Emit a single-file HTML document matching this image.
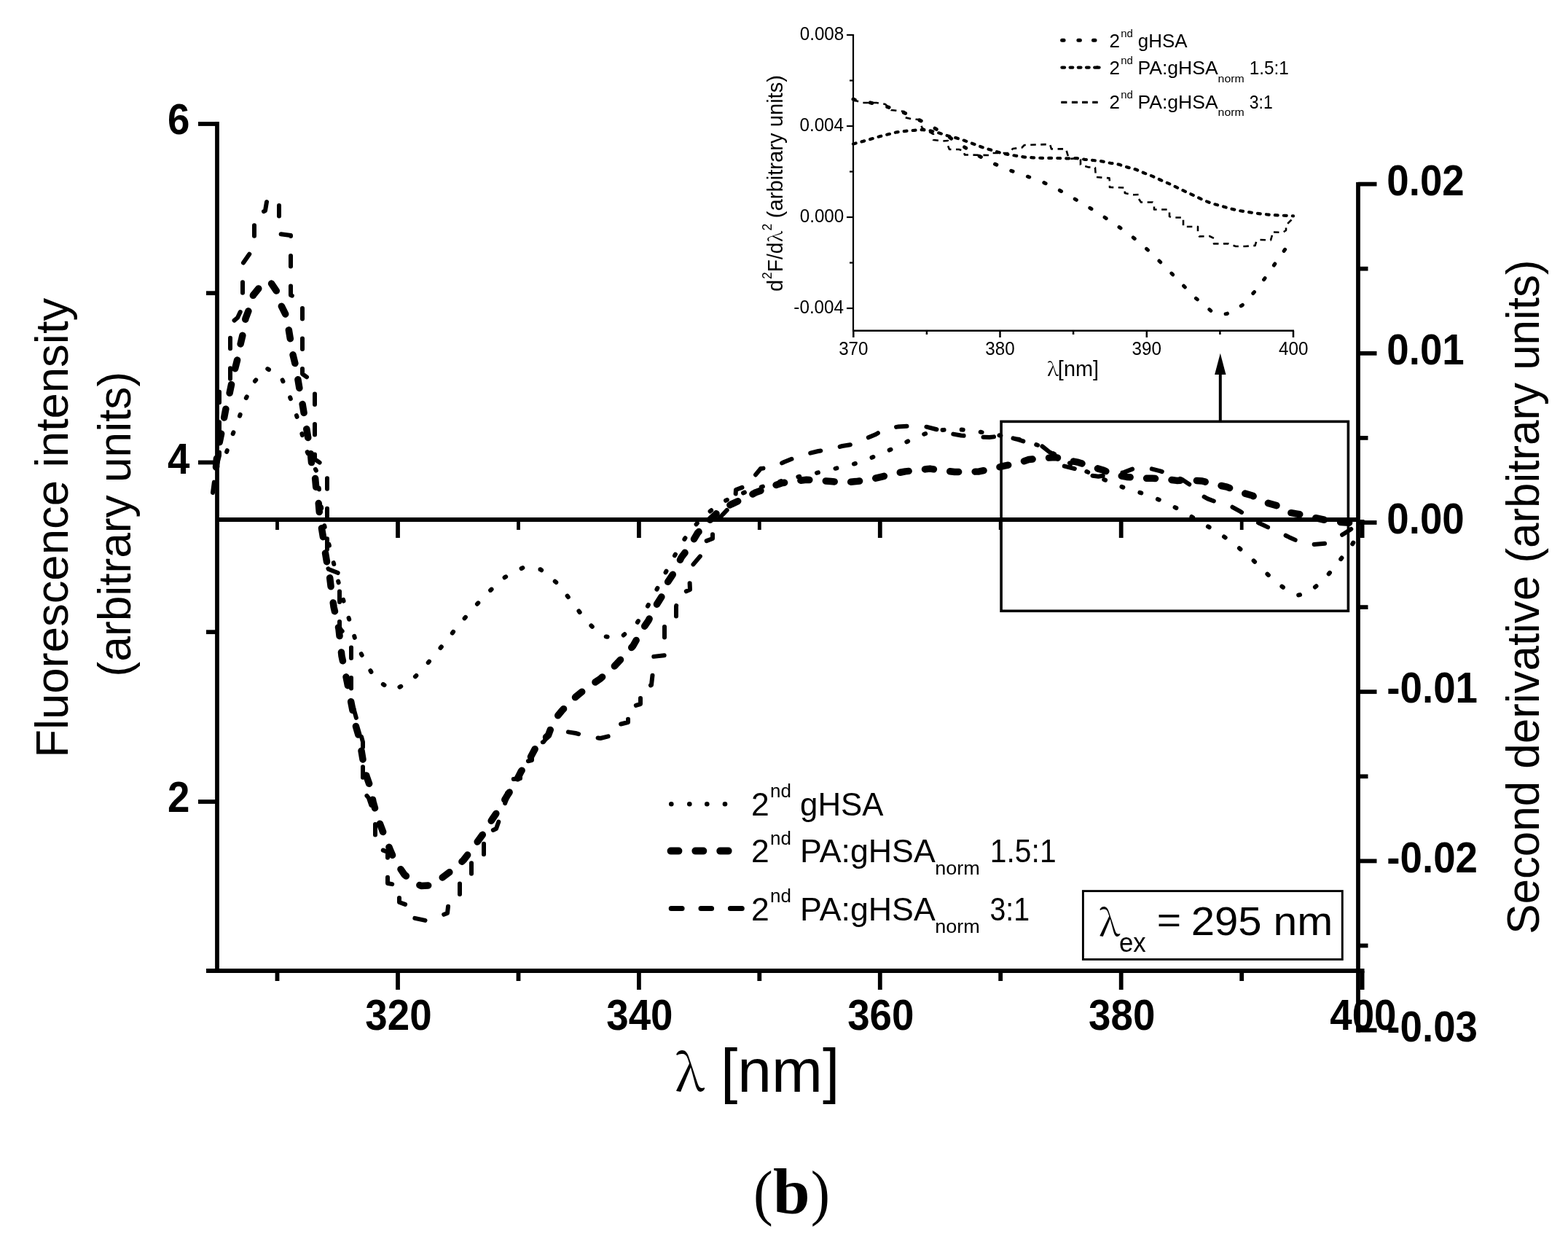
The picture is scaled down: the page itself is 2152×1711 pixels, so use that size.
<!DOCTYPE html>
<html><head><meta charset="utf-8"><title>Second derivative fluorescence spectra</title>
<style>html,body{margin:0;padding:0;background:#fff;}svg{display:block;}</style></head>
<body><svg width="2152" height="1711" viewBox="0 0 2152 1711">
<rect width="2152" height="1711" fill="#fff"/>
<g stroke="#000" stroke-width="5.8" fill="none" stroke-linecap="butt">
<line x1="298" y1="167.1" x2="298" y2="1335"/>
<line x1="283" y1="1332" x2="1872.5" y2="1332"/>
<line x1="1864" y1="250" x2="1864" y2="1416.6"/>
<line x1="298" y1="713" x2="1864" y2="713"/>
<line x1="272" y1="170" x2="298" y2="170"/>
<line x1="272" y1="634.5" x2="298" y2="634.5"/>
<line x1="272" y1="1100" x2="298" y2="1100"/>
<line x1="283" y1="402.2" x2="298" y2="402.2"/>
<line x1="283" y1="867.2" x2="298" y2="867.2"/>
<line x1="546.0" y1="1332" x2="546.0" y2="1358"/>
<line x1="876.9" y1="1332" x2="876.9" y2="1358"/>
<line x1="1207.8" y1="1332" x2="1207.8" y2="1358"/>
<line x1="1538.7" y1="1332" x2="1538.7" y2="1358"/>
<line x1="1869.6" y1="1332" x2="1869.6" y2="1358"/>
<line x1="380.5" y1="1332" x2="380.5" y2="1346"/>
<line x1="711.5" y1="1332" x2="711.5" y2="1346"/>
<line x1="1042.3" y1="1332" x2="1042.3" y2="1346"/>
<line x1="1373.2" y1="1332" x2="1373.2" y2="1346"/>
<line x1="1704.2" y1="1332" x2="1704.2" y2="1346"/>
<line x1="546.0" y1="713" x2="546.0" y2="738"/>
<line x1="876.9" y1="713" x2="876.9" y2="738"/>
<line x1="1207.8" y1="713" x2="1207.8" y2="738"/>
<line x1="1538.7" y1="713" x2="1538.7" y2="738"/>
<line x1="1869.6" y1="713" x2="1869.6" y2="738"/>
<line x1="380.5" y1="713" x2="380.5" y2="727" stroke-width="4.8"/>
<line x1="711.5" y1="713" x2="711.5" y2="727" stroke-width="4.8"/>
<line x1="1042.3" y1="713" x2="1042.3" y2="727" stroke-width="4.8"/>
<line x1="1373.2" y1="713" x2="1373.2" y2="727" stroke-width="4.8"/>
<line x1="1704.2" y1="713" x2="1704.2" y2="727" stroke-width="4.8"/>
<line x1="1864" y1="252.6" x2="1889.5" y2="252.6"/>
<line x1="1864" y1="484.8" x2="1889.5" y2="484.8"/>
<line x1="1864" y1="717.0" x2="1889.5" y2="717.0"/>
<line x1="1864" y1="949.2" x2="1889.5" y2="949.2"/>
<line x1="1864" y1="1181.4" x2="1889.5" y2="1181.4"/>
<line x1="1864" y1="1413.6" x2="1889.5" y2="1413.6"/>
<line x1="1864" y1="368.7" x2="1877.5" y2="368.7"/>
<line x1="1864" y1="600.9" x2="1877.5" y2="600.9"/>
<line x1="1864" y1="833.1" x2="1877.5" y2="833.1"/>
<line x1="1864" y1="1065.3" x2="1877.5" y2="1065.3"/>
<line x1="1864" y1="1297.5" x2="1877.5" y2="1297.5"/>
</g>
<text transform="translate(230.08,184.30) scale(0.9350,1)" font-family="'Liberation Sans', Arial, sans-serif" font-weight="bold" font-size="58.5">6</text>
<text transform="translate(230.08,650.00) scale(0.9350,1)" font-family="'Liberation Sans', Arial, sans-serif" font-weight="bold" font-size="58.5">4</text>
<text transform="translate(230.08,1113.80) scale(0.9350,1)" font-family="'Liberation Sans', Arial, sans-serif" font-weight="bold" font-size="58.5">2</text>
<text transform="translate(501.37,1413.30) scale(0.9350,1)" font-family="'Liberation Sans', Arial, sans-serif" font-weight="bold" font-size="58.5">320</text>
<text transform="translate(832.27,1413.30) scale(0.9350,1)" font-family="'Liberation Sans', Arial, sans-serif" font-weight="bold" font-size="58.5">340</text>
<text transform="translate(1163.17,1413.30) scale(0.9350,1)" font-family="'Liberation Sans', Arial, sans-serif" font-weight="bold" font-size="58.5">360</text>
<text transform="translate(1494.07,1413.30) scale(0.9350,1)" font-family="'Liberation Sans', Arial, sans-serif" font-weight="bold" font-size="58.5">380</text>
<text transform="translate(1825.25,1413.30) scale(0.9350,1)" font-family="'Liberation Sans', Arial, sans-serif" font-weight="bold" font-size="58.5">400</text>
<text transform="translate(1903.30,267.80) scale(0.9350,1)" font-family="'Liberation Sans', Arial, sans-serif" font-weight="bold" font-size="58.5">0.02</text>
<text transform="translate(1903.30,500.00) scale(0.9350,1)" font-family="'Liberation Sans', Arial, sans-serif" font-weight="bold" font-size="58.5">0.01</text>
<text transform="translate(1903.30,732.20) scale(0.9350,1)" font-family="'Liberation Sans', Arial, sans-serif" font-weight="bold" font-size="58.5">0.00</text>
<text transform="translate(1903.30,964.40) scale(0.9350,1)" font-family="'Liberation Sans', Arial, sans-serif" font-weight="bold" font-size="58.5">-0.01</text>
<text transform="translate(1903.30,1196.60) scale(0.9350,1)" font-family="'Liberation Sans', Arial, sans-serif" font-weight="bold" font-size="58.5">-0.02</text>
<text transform="translate(1903.30,1428.80) scale(0.9350,1)" font-family="'Liberation Sans', Arial, sans-serif" font-weight="bold" font-size="58.5">-0.03</text>
<text transform="translate(93.00,1039.87) rotate(-90) scale(1.0150,1)" font-family="'Liberation Sans', Arial, sans-serif" font-weight="normal" font-size="62.5">Fluorescence intensity</text>
<text transform="translate(179.00,928.44) rotate(-90) scale(0.9966,1)" font-family="'Liberation Sans', Arial, sans-serif" font-weight="normal" font-size="62.5">(arbitrary units)</text>
<text transform="translate(2112.00,1281.79) rotate(-90) scale(0.9905,1)" font-family="'Liberation Sans', Arial, sans-serif" font-weight="normal" font-size="62.5">Second derivative (arbitrary units)</text>
<text transform="translate(926.46,1497.10) scale(1.0067,1)" font-family="'Noto Serif CJK SC', 'Liberation Serif', serif" font-weight="normal" font-size="69">λ</text>
<text transform="translate(989.02,1498.00) scale(1.0114,1)" font-family="'Liberation Sans', Arial, sans-serif" font-weight="normal" font-size="83">[nm]</text>
<text transform="translate(1033.88,1665.20) scale(0.9414,1)" font-family="'Liberation Serif', 'Times New Roman', serif" font-weight="normal" font-size="85.4">(</text>
<text transform="translate(1061.09,1665.40) scale(1.0304,1)" font-family="'Liberation Serif', 'Times New Roman', serif" font-weight="bold" font-size="88.4">b</text>
<text transform="translate(1112.83,1665.20) scale(0.9233,1)" font-family="'Liberation Serif', 'Times New Roman', serif" font-weight="normal" font-size="85.4">)</text>
<text transform="translate(1030.98,1118.90)" font-family="'Liberation Sans', Arial, sans-serif" font-weight="normal" font-size="44.5">2</text>
<text transform="translate(1057.01,1094.40)" font-family="'Liberation Sans', Arial, sans-serif" font-weight="normal" font-size="26">nd</text>
<text transform="translate(1098.05,1118.90) scale(0.9837,1)" font-family="'Liberation Sans', Arial, sans-serif" font-weight="normal" font-size="44.5">gHSA</text>
<text transform="translate(1030.98,1183.20)" font-family="'Liberation Sans', Arial, sans-serif" font-weight="normal" font-size="44.5">2</text>
<text transform="translate(1057.01,1158.70)" font-family="'Liberation Sans', Arial, sans-serif" font-weight="normal" font-size="26">nd</text>
<text transform="translate(1098.12,1183.20) scale(1.0054,1)" font-family="'Liberation Sans', Arial, sans-serif" font-weight="normal" font-size="44.5">PA:gHSA</text>
<text transform="translate(1283.24,1200.20) scale(1.0418,1)" font-family="'Liberation Sans', Arial, sans-serif" font-weight="normal" font-size="26">norm</text>
<text transform="translate(1358.84,1183.20) scale(0.9170,1)" font-family="'Liberation Sans', Arial, sans-serif" font-weight="normal" font-size="44.5">1.5:1</text>
<text transform="translate(1030.98,1262.60)" font-family="'Liberation Sans', Arial, sans-serif" font-weight="normal" font-size="44.5">2</text>
<text transform="translate(1057.01,1238.10)" font-family="'Liberation Sans', Arial, sans-serif" font-weight="normal" font-size="26">nd</text>
<text transform="translate(1098.12,1262.60) scale(1.0054,1)" font-family="'Liberation Sans', Arial, sans-serif" font-weight="normal" font-size="44.5">PA:gHSA</text>
<text transform="translate(1283.24,1279.60) scale(1.0418,1)" font-family="'Liberation Sans', Arial, sans-serif" font-weight="normal" font-size="26">norm</text>
<text transform="translate(1358.43,1262.60) scale(0.8834,1)" font-family="'Liberation Sans', Arial, sans-serif" font-weight="normal" font-size="44.5">3:1</text>
<circle cx="921.3" cy="1103.3" r="3.3"/><circle cx="946.3" cy="1103.3" r="3.3"/><circle cx="970.3" cy="1103.3" r="3.3"/><circle cx="995" cy="1103.3" r="3.3"/>
<g stroke="#000" stroke-linecap="round" fill="none">
<path d="M920.6 1167.6H931.4M954.4 1167.6H965.3M988.3 1167.6H999.6" stroke-width="10"/>
<path d="M921.2 1246.4H936.1M962 1246.4H976.6M1002.4 1246.4H1018.3" stroke-width="7"/>
</g>
<rect x="1486.4" y="1222.6" width="355.9" height="93.8" fill="none" stroke="#000" stroke-width="2.9"/>
<text transform="translate(1508.25,1283.50) scale(0.9964,1)" font-family="'Noto Serif CJK SC', 'Liberation Serif', serif" font-weight="normal" font-size="50">λ</text>
<text transform="translate(1536.01,1306.00) scale(0.9541,1)" font-family="'Liberation Sans', Arial, sans-serif" font-weight="normal" font-size="36.5">ex</text>
<text transform="translate(1587.64,1279.10) scale(1.1423,1)" font-family="'Liberation Sans', Arial, sans-serif" font-weight="normal" font-size="50">=</text>
<text transform="translate(1634.69,1283.40) scale(1.0385,1)" font-family="'Liberation Sans', Arial, sans-serif" font-weight="normal" font-size="56">295</text>
<text transform="translate(1747.47,1283.40) scale(1.0515,1)" font-family="'Liberation Sans', Arial, sans-serif" font-weight="normal" font-size="56">nm</text>
<rect x="1374.1" y="578.4" width="476.3" height="259.9" fill="none" stroke="#000" stroke-width="3.6"/>
<line x1="1674.8" y1="578" x2="1674.8" y2="512" stroke="#000" stroke-width="4"/>
<path d="M1674.8 484.7L1682.5 514L1667.1 514Z" fill="#000"/>
<g stroke="#000" fill="none">
<line x1="1171" y1="47" x2="1171" y2="455" stroke-width="2.2"/>
<line x1="1170" y1="453.8" x2="1776" y2="453.8" stroke-width="2.5"/>
<line x1="1162" y1="48.0" x2="1171" y2="48.0" stroke-width="2.2"/>
<line x1="1162" y1="173.0" x2="1171" y2="173.0" stroke-width="2.2"/>
<line x1="1162" y1="298.0" x2="1171" y2="298.0" stroke-width="2.2"/>
<line x1="1162" y1="423.0" x2="1171" y2="423.0" stroke-width="2.2"/>
<line x1="1166" y1="110.5" x2="1171" y2="110.5" stroke-width="2.2"/>
<line x1="1166" y1="235.5" x2="1171" y2="235.5" stroke-width="2.2"/>
<line x1="1166" y1="360.5" x2="1171" y2="360.5" stroke-width="2.2"/>
<line x1="1171.3" y1="453.8" x2="1171.3" y2="463" stroke-width="2.5"/>
<line x1="1372.5" y1="453.8" x2="1372.5" y2="463" stroke-width="2.5"/>
<line x1="1573.8" y1="453.8" x2="1573.8" y2="463" stroke-width="2.5"/>
<line x1="1775.0" y1="453.8" x2="1775.0" y2="463" stroke-width="2.5"/>
<line x1="1271.9" y1="453.8" x2="1271.9" y2="459" stroke-width="2.5"/>
<line x1="1473.1" y1="453.8" x2="1473.1" y2="459" stroke-width="2.5"/>
<line x1="1674.4" y1="453.8" x2="1674.4" y2="459" stroke-width="2.5"/>
</g>
<text transform="translate(1097.71,55.20) scale(0.9500,1)" font-family="'Liberation Sans', Arial, sans-serif" font-weight="normal" font-size="25.5">0.008</text>
<text transform="translate(1097.46,180.20) scale(0.9500,1)" font-family="'Liberation Sans', Arial, sans-serif" font-weight="normal" font-size="25.5">0.004</text>
<text transform="translate(1097.71,305.20) scale(0.9500,1)" font-family="'Liberation Sans', Arial, sans-serif" font-weight="normal" font-size="25.5">0.000</text>
<text transform="translate(1089.35,430.20) scale(0.9500,1)" font-family="'Liberation Sans', Arial, sans-serif" font-weight="normal" font-size="25.5">-0.004</text>
<text transform="translate(1151.13,487.20) scale(0.9500,1)" font-family="'Liberation Sans', Arial, sans-serif" font-weight="normal" font-size="25.5">370</text>
<text transform="translate(1352.36,487.20) scale(0.9500,1)" font-family="'Liberation Sans', Arial, sans-serif" font-weight="normal" font-size="25.5">380</text>
<text transform="translate(1553.59,487.20) scale(0.9500,1)" font-family="'Liberation Sans', Arial, sans-serif" font-weight="normal" font-size="25.5">390</text>
<text transform="translate(1755.00,487.20) scale(0.9500,1)" font-family="'Liberation Sans', Arial, sans-serif" font-weight="normal" font-size="25.5">400</text>
<text transform="translate(1437.23,515.50) scale(1.0786,1)" font-family="'Noto Serif CJK SC', 'Liberation Serif', serif" font-weight="normal" font-size="25">λ</text>
<text transform="translate(1451.87,516.00) scale(0.9981,1)" font-family="'Liberation Sans', Arial, sans-serif" font-weight="normal" font-size="29">[nm]</text>
<text transform="translate(1073.80,400.06) rotate(-90)" font-family="'Liberation Sans', Arial, sans-serif" font-weight="normal" font-size="29">d</text>
<text transform="translate(1058.90,383.07) rotate(-90)" font-family="'Liberation Sans', Arial, sans-serif" font-weight="normal" font-size="17.5">2</text>
<text transform="translate(1073.80,373.25) rotate(-90) scale(0.9708,1)" font-family="'Liberation Sans', Arial, sans-serif" font-weight="normal" font-size="29">F/d</text>
<text transform="translate(1073.50,331.74) rotate(-90) scale(1.0286,1)" font-family="'Noto Serif CJK SC', 'Liberation Serif', serif" font-weight="normal" font-size="25">λ</text>
<text transform="translate(1058.90,316.48) rotate(-90)" font-family="'Liberation Sans', Arial, sans-serif" font-weight="normal" font-size="17.5">2</text>
<text transform="translate(1073.80,299.15) rotate(-90) scale(1.0068,1)" font-family="'Liberation Sans', Arial, sans-serif" font-weight="normal" font-size="29">(arbitrary units)</text>
<g stroke="#000" fill="none">
<path d="M1457.6 55.2h2.5M1479.9 55.2h2.5M1500.5 55.2h2.5" stroke-width="5" stroke-linecap="round"/>
<path d="M1457.5 92.6h3.5M1468.7 92.6h3.5M1479.9 92.6h3.5M1491.1 92.6h3.5M1502.3 92.6h3.5M1506 92.6h2.5" stroke-width="4.4" stroke-linecap="round"/>
<path d="M1456.3 140.3h8.1M1470.9 140.3h8.1M1485.1 140.3h7.8M1499.2 140.3h7.5" stroke-width="3.2"/>
</g>
<text transform="translate(1522.50,65.00)" font-family="'Liberation Sans', Arial, sans-serif" font-weight="normal" font-size="26">2</text>
<text transform="translate(1538.23,51.00)" font-family="'Liberation Sans', Arial, sans-serif" font-weight="normal" font-size="15">nd</text>
<text transform="translate(1561.76,65.00) scale(0.9982,1)" font-family="'Liberation Sans', Arial, sans-serif" font-weight="normal" font-size="26">gHSA</text>
<text transform="translate(1522.50,102.40)" font-family="'Liberation Sans', Arial, sans-serif" font-weight="normal" font-size="26">2</text>
<text transform="translate(1538.23,88.40)" font-family="'Liberation Sans', Arial, sans-serif" font-weight="normal" font-size="15">nd</text>
<text transform="translate(1561.48,102.40) scale(1.0215,1)" font-family="'Liberation Sans', Arial, sans-serif" font-weight="normal" font-size="26">PA:gHSA</text>
<text transform="translate(1671.57,112.90) scale(1.0598,1)" font-family="'Liberation Sans', Arial, sans-serif" font-weight="normal" font-size="15">norm</text>
<text transform="translate(1714.68,102.40) scale(0.9355,1)" font-family="'Liberation Sans', Arial, sans-serif" font-weight="normal" font-size="26">1.5:1</text>
<text transform="translate(1522.50,148.70)" font-family="'Liberation Sans', Arial, sans-serif" font-weight="normal" font-size="26">2</text>
<text transform="translate(1538.23,134.70)" font-family="'Liberation Sans', Arial, sans-serif" font-weight="normal" font-size="15">nd</text>
<text transform="translate(1561.48,148.70) scale(1.0215,1)" font-family="'Liberation Sans', Arial, sans-serif" font-weight="normal" font-size="26">PA:gHSA</text>
<text transform="translate(1671.57,159.20) scale(1.0598,1)" font-family="'Liberation Sans', Arial, sans-serif" font-weight="normal" font-size="15">norm</text>
<text transform="translate(1714.78,148.70) scale(0.8842,1)" font-family="'Liberation Sans', Arial, sans-serif" font-weight="normal" font-size="26">3:1</text>
<g fill="none" stroke="#000" stroke-linejoin="round">
<path d="M297 642 L310.3 622.3 L318.8 597.5 L328.1 573.5 L336.5 548.8 L348.4 524.8 L365 504.8 L385.6 516.9 L396.9 541.9 L405.6 565.6 L413.1 590 L419.1 614.4 L427 632 L435 648 L439 680 L443.1 712.5 L449 737 L455 761 L464 797 L474.4 835 L482.3 859.4 L489.4 883.8 L501 908.1 L515.9 932.5 L539 947.3 L563.4 935.4 L585.4 911.9 L606.3 886.9 L625.3 862.9 L646.3 838.1 L668.8 813.8 L693.1 791.9 L717.5 779 L741.9 781.3 L766 801.3 L784.8 825.6 L802.9 849.8 L825 872.3 L849.8 876.6 L872.9 856.9 L888.8 831.9 L901.9 807.8 L914.8 783.1 L927.9 758.8 L943.1 733.8 L962 712 L986.9 691.3 L1010 680 L1035 671 L1060 664 L1085 656 L1108.8 651.8 L1133.9 645.7 L1158 640.2 L1182.7 633.7 L1206.8 623.4 L1231.9 612.8 L1255.6 600.6 L1280 591.3 L1305 589 L1329.4 590 L1353 594 L1378 598.5 L1403 603.8 L1428 612 L1452 626 L1476 640 L1500 651 L1525 662.3 L1550 671.9 L1573.8 678.5 L1598.1 688.8 L1622.8 701.3 L1647.5 716.3 L1671.9 730.6 L1696.3 748.1 L1720.6 769.4 L1745 793.1 L1770 813.1 L1782 816.5 L1794.4 814.4 L1817.5 795 L1837.5 770.6 L1856.3 746.3 L1866 730" stroke-width="6" stroke-linecap="round" stroke-dasharray="2 24.2"/>
<path d="M292 676 L296 645 L301 625 L301 532 L316 524 L316 444 L326 436 L333 421 L333 362 L342 349 L349 339 L349 297 L364 289 L367 271 L383 279 L383 321 L399 323 L399 405 L415 411 L415 513 L426 521 L432 535 L432 630 L449 642 L449 778 L451 781 L466 787 L466 862 L482 880 L482 960 L498 1018 L498 1085 L506 1095 L515 1122 L515 1158 L519 1164 L532 1169 L532 1212 L548 1215 L548 1238 L562 1243 L565 1259 L584 1263 L598 1259 L614 1253 L616 1235 L631 1229 L631 1208 L647 1205 L647 1183 L664 1181 L664 1145 L681 1137 L696 1094 L696 1070 L714 1068 L714 1047 L730 1043 L730 1022 L746 1018 L755 1006 L771 1003 L790 1006 L805 1010 L824 1013 L840 1009 L846 995 L862 991 L862 971 L879 966 L879 946 L894 940 L896 922 L896 901 L914 899 L912 877 L912 857 L928 853 L928 832 L931 816 L947 809 L946 786 L951 775 L962 762 L962 745 L978 739 L978 720 L991 707 L1009 688 L1010 672 L1029 665 L1035 654 L1044 643 L1062 641 L1076 634 L1091 628 L1107 623 L1123 619 L1140 616.5 L1156 612 L1174 609 L1188 602 L1202 596 L1215 588 L1232 585.6 L1251 584.4 L1271 585.6 L1286 589.4 L1304 590 L1305 595 L1319 597.5 L1339 599.4 L1358 600 L1377 598 L1395 602.5 L1411 607.5 L1430 612 L1440 620 L1449 625 L1455 632 L1460 639.4 L1477.5 643.8 L1489 651.3 L1507.5 653.8 L1526 650.6 L1542.5 648.1 L1557 642.5 L1577 642.5 L1592.5 646.3 L1607.5 651.3 L1622.5 658.1 L1635 666.3 L1645 677.5 L1657.5 684.4 L1672.5 690 L1689 694.4 L1702.5 701.9 L1715 710 L1727.5 717.5 L1741 723.8 L1755 730 L1769 736.9 L1782.5 743.1 L1799 747.5 L1819 745.6 L1832.5 740 L1845 731.9 L1857.5 723.8 L1866 716" stroke-width="6" stroke-linecap="round" stroke-dasharray="14.5 27"/>
<path d="M296.5 641 L297.5 628 L299 618 L301.3 606.3 L304.4 591.3 L307.5 573.8 L310.6 557.5 L315 540 L318.1 525 L322.5 506.3 L326.3 491.3 L330 472.5 L333.8 456.3 L337 437 L342 424 L347.5 405 L358.8 391 L365.5 386 L372.5 389 L381.3 402 L385 417.5 L393.1 433.8 L396.3 452.5 L398.8 467.5 L401.9 486.3 L405.6 501.3 L408.8 520 L411.3 535 L415 553.8 L417.5 568.8 L420.6 587.5 L423.1 602.5 L426.3 621.3 L428 640 L432.5 655 L434 671.3 L437 687.5 L438.5 705 L441.3 723.8 L443.8 738.8 L446.3 757.5 L448.8 772.5 L452.5 791.3 L454.5 808 L458.1 833 L465 863 L469 900 L476.3 935 L482.5 967 L488 995 L493 1012 L496 1030 L499 1048 L503 1065 L509 1082 L512 1100 L516 1114 L521.3 1130 L527.5 1146.3 L535 1165 L541.3 1180 L555 1200 L568.8 1211.3 L578 1215.5 L587.5 1215 L602.5 1207.5 L622.5 1192.5 L636.3 1180 L652.5 1158.8 L662.5 1145 L675 1125 L687.5 1106.3 L696.3 1091.3 L706.3 1076.3 L715 1058.8 L726.3 1042.5 L736.3 1023.8 L752.5 1008.8 L760 988.8 L771.3 975 L790 956.3 L803.8 945 L823.8 931.3 L838.8 918.8 L856.3 900 L868.8 886.3 L880 866.3 L890 851.3 L899.4 832.5 L908.8 817.5 L916.3 798.8 L926.3 783.8 L935 765 L946.3 750 L957.5 731.3 L970 717.5 L988.1 700 L1003.8 691.9 L1023.8 682.5 L1037.5 675.6 L1056.7 668.5 L1072.5 662.9 L1090.2 660.1 L1106.9 658.3 L1124.6 659.2 L1140.4 660.6 L1159 662 L1174.8 660.6 L1193.3 658.3 L1208.2 654.6 L1226.3 650 L1242.5 646.9 L1260 645 L1276.3 643.1 L1293.8 645.6 L1310 647.5 L1328.8 647.5 L1343.8 646.9 L1362.5 643.1 L1377.5 639.4 L1396.3 635.6 L1411.9 630.6 L1429.4 628.8 L1448.8 627.5 L1465 631.3 L1480 634.4 L1498.8 640.6 L1513.8 645 L1530 651.3 L1546.3 654.4 L1567.5 656.3 L1581.3 656.3 L1601.3 657.5 L1615 659.4 L1635 658.8 L1650 660 L1668.8 665 L1683.8 668.1 L1701.3 675 L1718.8 680 L1735 688.8 L1752.5 693.8 L1768.8 703.1 L1786.9 706.3 L1802.5 710 L1820 713.8 L1837.5 716.3 L1855 717.5 L1866 718" stroke-width="9.5" stroke-linecap="round" stroke-dasharray="12 22.5"/>
<path d="M1171 136 L1174.4 137.5 L1193.1 140.6 L1214.4 145.6 L1235 151.9 L1257.5 162.5 L1278.1 173.1 L1300 186.3 L1320.6 200 L1341.9 213.1 L1363.8 224.4 L1384.4 233.1 L1405.6 240.6 L1427.5 248.1 L1448.8 258.1 L1470 270 L1491.3 282.5 L1512.8 296 L1533.8 310 L1555 325.6 L1576.3 343.8 L1596.9 363.8 L1617.5 385 L1640 408.1 L1662.5 426.9 L1673 431.5 L1683.8 430.6 L1705 418.8 L1724.4 397.5 L1740 376.3 L1755 354.4 L1770.6 332.5 L1775 326" stroke-width="5" stroke-linecap="round" stroke-dasharray="2.5 21.5"/>
<path d="M1171 197.5 L1184 194 L1196 190.6 L1208 187 L1220 184 L1231 181.3 L1243 179.8 L1255 178.8 L1266 178 L1277 179.4 L1289 182.5 L1300.6 186.3 L1313 189.4 L1324 193 L1336 197.5 L1348 202 L1359.5 205.6 L1372 209.4 L1383.5 211.9 L1394.5 213.8 L1406.5 215.6 L1418 216.3 L1430 216.9 L1442 216.9 L1454 217 L1465 217.5 L1477 217 L1489 218.8 L1500.5 220 L1512 221.3 L1524 223.8 L1535.5 225.6 L1547 229.4 L1559 232.5 L1570.5 237.5 L1582 241.9 L1594 247.5 L1605.5 252.5 L1617 258.1 L1629 263.8 L1641 269.4 L1652.5 275 L1664 279.4 L1675.6 282.5 L1687.5 286 L1699.4 288.8 L1710.6 290.6 L1722.5 292.5 L1733.8 293.8 L1745.6 295 L1757.5 295.6 L1770 296 L1775 296.3" stroke-width="4.2" stroke-linecap="round" stroke-dasharray="3.8 8.2"/>
<path d="M1171 137 L1184 141 L1203 141 L1215 143 L1223 151 L1241 153 L1241 161 L1253 163.5 L1261 164 L1262 168 L1266 176 L1281 184 L1281 192 L1294 193.5 L1301 193 L1301 200 L1303 205 L1316 205 L1322.5 207 L1324 212.5 L1331 212.5 L1357.5 213 L1362.5 210 L1377.5 210 L1385 210 L1390 204 L1402.5 202.5 L1406 199 L1441 198 L1443 204.4 L1463 204.4 L1467 218 L1481 217 L1483 219 L1483 226 L1494 229.4 L1503 230 L1504 243 L1522.5 244.4 L1523 249 L1523 257 L1543.8 257.5 L1543.8 265 L1556 267.3 L1563 267 L1563 273 L1566 277.5 L1582 277.5 L1584 281 L1584 287.5 L1603 287.5 L1605 289 L1605 297 L1609 298.5 L1624 298.5 L1624 311 L1644 311 L1644 319 L1646 324.4 L1660 324 L1666 327 L1666 334.4 L1686 334.4 L1696 338 L1709 338 L1722.5 337 L1724.4 331 L1729 329 L1744 329.4 L1745.6 324 L1745.6 318.5 L1761 318.8 L1765 316 L1765 309 L1772 302 L1775 298" stroke-width="2.6" stroke-linecap="butt" stroke-dasharray="7.5 6.5"/>
</g>
</svg></body></html>
